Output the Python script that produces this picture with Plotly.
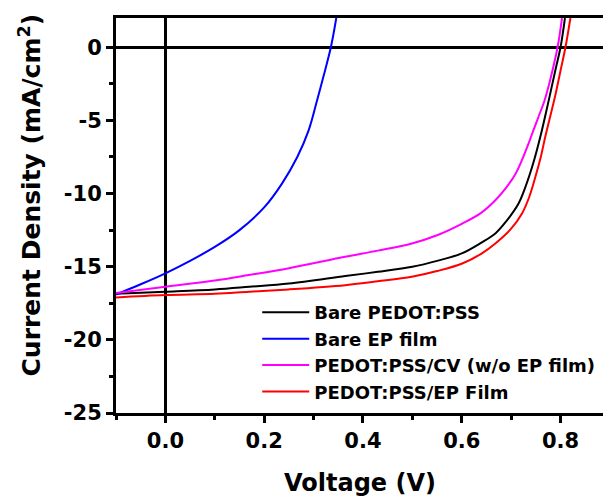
import plotly.graph_objects as go

# ---- data ----
v_bare_pedot = [-0.1, 0.0, 0.1, 0.17, 0.25, 0.364, 0.43, 0.5, 0.55, 0.6, 0.64, 0.668, 0.69, 0.715, 0.73, 0.745, 0.76, 0.775, 0.79, 0.80, 0.809]
j_bare_pedot = [-16.85, -16.71, -16.55, -16.37, -16.15, -15.64, -15.35, -15.0, -14.6, -14.09, -13.35, -12.73, -11.9, -10.68, -9.45, -7.9, -6.0, -3.8, -1.5, 0.0, 2.0]

v_bare_ep = [-0.1, -0.05, 0.0, 0.05, 0.1, 0.15, 0.2, 0.236, 0.267, 0.29, 0.307, 0.32, 0.335, 0.346]
j_bare_ep = [-16.9, -16.2, -15.45, -14.6, -13.65, -12.5, -10.95, -9.32, -7.5, -5.68, -3.64, -2.0, 0.0, 2.0]

v_cv = [-0.1, 0.0, 0.1, 0.169, 0.25, 0.364, 0.43, 0.499, 0.55, 0.601, 0.64, 0.668, 0.69, 0.709, 0.722, 0.735, 0.746, 0.756, 0.768, 0.78, 0.794, 0.803]
j_cv = [-16.8, -16.37, -15.95, -15.57, -15.1, -14.32, -13.9, -13.41, -12.85, -12.05, -11.3, -10.46, -9.6, -8.64, -7.7, -6.6, -5.6, -4.7, -3.6, -2.1, 0.0, 2.0]

v_ep_film = [-0.1, 0.0, 0.1, 0.169, 0.25, 0.364, 0.43, 0.499, 0.55, 0.601, 0.64, 0.668, 0.7, 0.722, 0.737, 0.749, 0.76, 0.769, 0.779, 0.789, 0.80, 0.81, 0.82]
j_ep_film = [-17.1, -16.94, -16.85, -16.71, -16.55, -16.26, -16.0, -15.69, -15.3, -14.78, -14.1, -13.41, -12.4, -11.36, -10.2, -8.87, -7.5, -6.14, -4.75, -3.35, -1.6, 0.0, 2.0]

series_names = ["Bare PEDOT:PSS", "Bare EP film", "PEDOT:PSS/CV (w/o EP film)", "PEDOT:PSS/EP Film"]
series_colors = ["#000000", "#0000FF", "#FF00FF", "#FF0000"]
series_v = [v_bare_pedot, v_bare_ep, v_cv, v_ep_film]
series_j = [j_bare_pedot, j_bare_ep, j_cv, j_ep_film]

x_tickvals = [0.0, 0.2, 0.4, 0.6, 0.8]
x_ticktext = ["0.0", "0.2", "0.4", "0.6", "0.8"]
y_tickvals = [0, -5, -10, -15, -20, -25]
y_ticktext = ["0", "-5", "-10", "-15", "-20", "-25"]

x_title = "Voltage (V)"
y_title = "Current Density (mA/cm<sup>2</sup>)"

FONT = "DejaVu Sans"

fig = go.Figure()
for name, col, vv, jj in zip(series_names, series_colors, series_v, series_j):
    fig.add_trace(go.Scatter(x=vv, y=jj, mode="lines", name=name,
                             line=dict(color=col, width=2, shape="spline", smoothing=1.0)))

axis_common = dict(
    showline=True, linecolor="black", linewidth=3,
    ticks="outside", ticklen=7, tickwidth=2.5, tickcolor="black",
    showgrid=False, zeroline=True, zerolinecolor="black", zerolinewidth=2.5,
    tickfont=dict(family=FONT, size=21, color="black", weight="bold"),
)

fig.update_xaxes(range=[-0.1, 0.886], tickvals=x_tickvals, ticktext=x_ticktext,
                 mirror=True,
                 minor=dict(dtick=0.1, tick0=0, ticks="outside", ticklen=4, tickwidth=2.5, tickcolor="black"),
                 **axis_common)
fig.update_yaxes(range=[-25, 2], tickvals=y_tickvals, ticktext=y_ticktext,
                 minor=dict(dtick=2.5, tick0=0, ticks="outside", ticklen=4, tickwidth=2.5, tickcolor="black"),
                 **axis_common)

fig.add_annotation(text=x_title, xref="paper", yref="paper", x=0.5, y=0, yshift=-70,
                   showarrow=False, xanchor="center", yanchor="middle",
                   font=dict(family=FONT, size=24, color="black", weight="bold"))
fig.add_annotation(text=y_title, xref="paper", yref="paper", x=0, y=0.5, xshift=-86, yshift=20,
                   showarrow=False, xanchor="center", yanchor="middle", textangle=-90,
                   font=dict(family=FONT, size=25, color="black", weight="bold"))

fig.update_layout(
    width=603, height=499,
    margin=dict(l=116, r=0, t=17.5, b=86),
    plot_bgcolor="white", paper_bgcolor="white",
    showlegend=True,
    legend=dict(x=0.29, y=0.301, xanchor="left", yanchor="top",
                bgcolor="rgba(0,0,0,0)", borderwidth=0,
                font=dict(family=FONT, size=18, color="black", weight="bold"),
                itemwidth=47, tracegroupgap=0),
)

fig.write_html("out.html")
